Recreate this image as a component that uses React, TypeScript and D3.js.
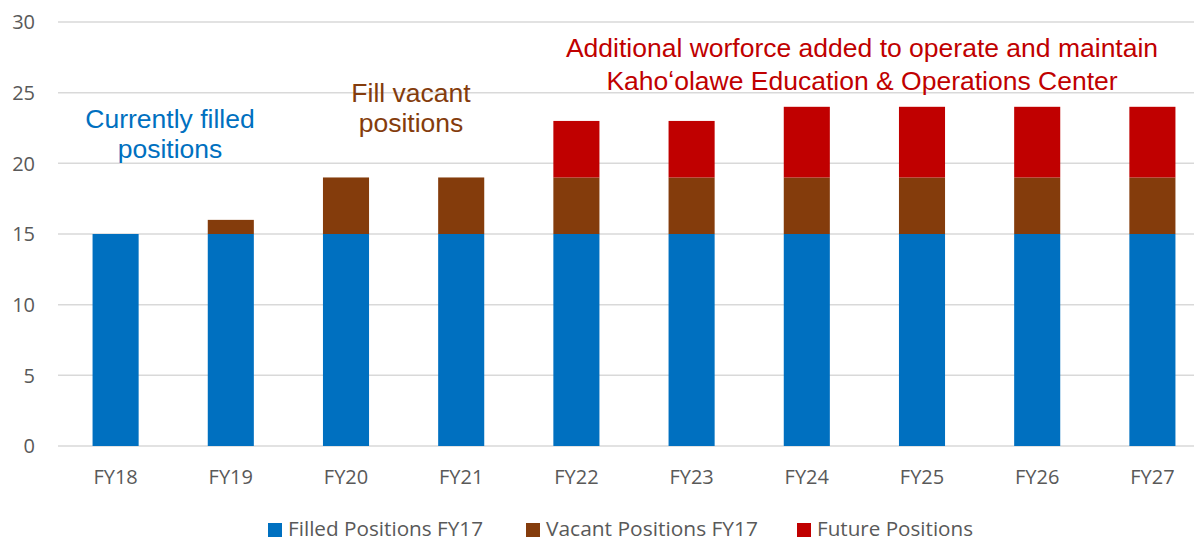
import React from "react";
import * as d3 from "d3";

const categories = ["FY18", "FY19", "FY20", "FY21", "FY22", "FY23", "FY24", "FY25", "FY26", "FY27"];
const filled = [15, 15, 15, 15, 15, 15, 15, 15, 15, 15];
const vacant = [0, 1, 4, 4, 4, 4, 4, 4, 4, 4];
const future = [0, 0, 0, 0, 4, 4, 5, 5, 5, 5];
const yTicks = [0, 5, 10, 15, 20, 25, 30];
const seriesNames = ["Filled Positions FY17", "Vacant Positions FY17", "Future Positions"];
const seriesColors = ["#0070C0", "#843C0C", "#C00000"];

const W = 1194;
const H = 537;

export default function App() {
  const x = d3.scaleBand<string>().domain(categories).range([58, 1210]).paddingInner(0.6).paddingOuter(0.3);
  const y = d3.scaleLinear().domain([0, 30]).range([446, 22]);
  const rows = categories.map((c, i) => ({ cat: c, filled: filled[i], vacant: vacant[i], future: future[i] }));
  const stack = d3.stack<any>().keys(["filled", "vacant", "future"])(rows);
  const axisFont = "'Open Sans', sans-serif";
  const annFont = "'Liberation Sans', Arial, sans-serif";
  const legendX = [268, 526, 797];
  const legendW = [195, 212, 156];
  return (
    <svg width={W} height={H} style={{ display: "block", position: "absolute", left: 0, top: 0 }}>
      <rect width={W} height={H} fill="#fff" />
      {yTicks.map((t) => (
        <g key={t}>
          <line x1={58} x2={1210} y1={y(t)} y2={y(t)} stroke="#D9D9D9" strokeWidth={1.5} />
          <text x={35} y={y(t)} dy="0.36em" textAnchor="end" fontFamily={axisFont} fontSize={20} fill="#595959">
            {t}
          </text>
        </g>
      ))}
      {stack.map((s, si) => (
        <g key={si} fill={seriesColors[si]}>
          {s.map((d: any, i: number) =>
            d[1] - d[0] > 0 ? (
              <rect key={i} x={x(categories[i])} width={x.bandwidth()} y={y(d[1])} height={y(d[0]) - y(d[1])} />
            ) : null
          )}
        </g>
      ))}
      {categories.map((c) => (
        <text key={c} x={(x(c) as number) + x.bandwidth() / 2} y={484} textAnchor="middle" fontFamily={axisFont} fontSize={20} fill="#595959">
          {c}
        </text>
      ))}
      {seriesNames.map((n, i) => (
        <g key={n}>
          <rect x={legendX[i]} y={523} width={14} height={14} fill={seriesColors[i]} />
          <text
            x={legendX[i] + 20}
            y={536}
            fontFamily={axisFont}
            fontSize={20}
            fill="#595959"
            textLength={legendW[i]}
            lengthAdjust="spacingAndGlyphs"
          >
            {n}
          </text>
        </g>
      ))}
      <g fontFamily={annFont} fontSize={26.5} textAnchor="middle">
        <text x={170} y={128} fill="#0070C0">Currently filled</text>
        <text x={170} y={158} fill="#0070C0">positions</text>
        <text x={411} y={102} fill="#843C0C">Fill vacant</text>
        <text x={411} y={132} fill="#843C0C">positions</text>
        <text x={862} y={57} fill="#C00000">Additional worforce added to operate and maintain</text>
        <text x={862} y={90} fill="#C00000">Kahoʻolawe Education &amp; Operations Center</text>
      </g>
    </svg>
  );
}
